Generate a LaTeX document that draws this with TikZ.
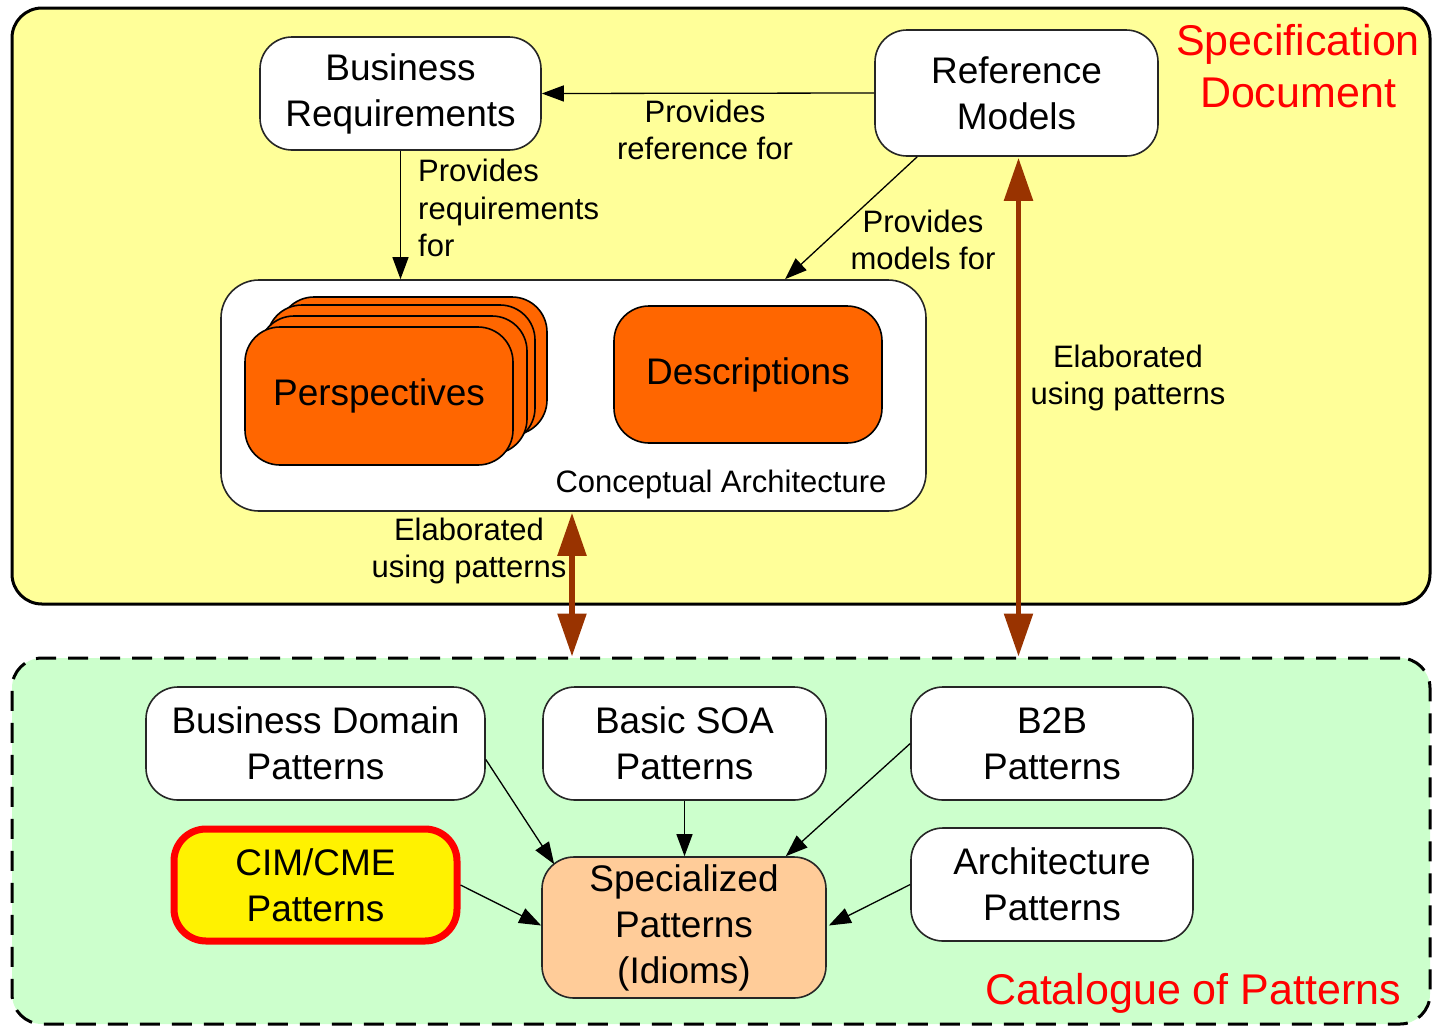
\documentclass[tikz,border=0pt]{standalone}
\usepackage{fontspec}
\setmainfont{Liberation Sans}
\usetikzlibrary{arrows.meta,calc}
\definecolor{bgyellow}{HTML}{FFFF99}
\definecolor{bggreen}{HTML}{CCFFCC}
\definecolor{orng}{HTML}{FF6600}
\definecolor{peach}{HTML}{FFCC99}
\definecolor{brn}{HTML}{993300}
\definecolor{redtxt}{HTML}{FF0000}
\begin{document}
\begin{tikzpicture}[x=1pt,y=-1pt,
  box/.style={draw=black!85, line width=1.6pt, fill=white, rounded corners=32pt,
    align=center, inner sep=0pt, font=\fontsize{37}{46}\selectfont},
  lbl/.style={font=\fontsize{31}{37.5}\selectfont, align=center, inner sep=0pt},
  redlbl/.style={font=\fontsize{43}{52}\selectfont, align=center, inner sep=0pt, text=redtxt},
  conn/.style={-{Triangle[length=22pt,width=16pt]}, line width=1.3pt},
  elab/.style={{Triangle[length=43pt,width=28pt]}-{Triangle[length=43pt,width=28pt]}, line width=5.5pt, draw=brn},
  persp/.style={draw=black, line width=1.6pt, fill=orng, rounded corners=35pt}]
\useasboundingbox (0,0) rectangle (1432,1026);
% regions
\node[draw=black, line width=3pt, fill=bgyellow, rounded corners=30pt, minimum width=1418pt, minimum height=596pt, inner sep=0pt] (specdoc) at (721,306) {};
\node[draw=black, line width=3pt, dash pattern=on 20pt off 12pt, fill=bggreen, rounded corners=30pt, minimum width=1418pt, minimum height=366pt, inner sep=0pt] (cat) at (721,841) {};
\node[redlbl] (spectitle) at (1298,66) {Specification\\Document};
\node[redlbl] (cattitle) at (1193,993) {Catalogue of Patterns};
% top nodes
\node[box, minimum width=281pt, minimum height=113pt] (BR) at (400.5,93.5) {Business\\Requirements};
\node[box, minimum width=283pt, minimum height=126pt] (RM) at (1016.5,93) {Reference\\Models};
\node[box, rounded corners=38pt, minimum width=705pt, minimum height=231pt] (CA) at (573.5,395.5) {};
\node[lbl] (calbl) at (721,484) {Conceptual Architecture};
% perspectives stack
\draw[persp] (279,297) rectangle (547,435);
\draw[persp] (267,305) rectangle (535,443);
\draw[persp] (259,316) rectangle (527,454);
\node[box, fill=orng, draw=black, rounded corners=35pt, minimum width=268pt, minimum height=138pt] (PE) at (379,396) {Perspectives};
\node[box, fill=orng, draw=black, rounded corners=35pt, minimum width=268pt, minimum height=137pt] (DE) at (748,374.5) {Descriptions};
% top connectors
\draw[conn] (RM.west) -- (BR.east);
\node[lbl] (l1) at (705,130) {Provides\\reference for};
\draw[conn] (BR.south) -- (BR.south |- CA.north);
\node[lbl, align=left, anchor=west] (l2) at (418,208) {Provides\\requirements\\for};
\draw[conn] ($(RM.south west)+(43,0)$) -- ($(CA.north)+(211.5,0)$);
\node[lbl] (l3) at (923,240) {Provides\\models for};
% elaboration arrows
\coordinate (e1a) at ($(CA.south)+(-1.5,1)$);
\coordinate (e1b) at (e1a |- cat.north);
\draw[elab] (e1a) -- (e1b);
\node[lbl] (l4) at (469,551) {Elaborated\\using patterns};
\coordinate (e2a) at ($(RM.south)+(2,1)$);
\coordinate (e2b) at (e2a |- cat.north);
\draw[elab] (e2a) -- (e2b);
\node[lbl] (l5) at (1128,378) {Elaborated\\using patterns};
% catalogue nodes
\node[box, minimum width=339pt, minimum height=113pt] (BDP) at (315.5,743.5) {Business Domain\\Patterns};
\node[box, minimum width=283pt, minimum height=113pt] (SOA) at (684.5,743.5) {Basic SOA\\Patterns};
\node[box, minimum width=282pt, minimum height=113pt] (B2B) at (1052,743.5) {B2B\\Patterns};
\node[box, fill=yellow, draw=redtxt, line width=7pt, minimum width=283pt, minimum height=112pt] (CIM) at (315.5,885) {CIM/CME\\Patterns};
\node[box, fill=peach, minimum width=284pt, minimum height=141pt] (SP) at (684,927.5) {Specialized\\Patterns\\(Idioms)};
\node[box, minimum width=282pt, minimum height=113pt] (AP) at (1052,884.5) {Architecture\\Patterns};
% catalogue connectors
\draw[conn] ($(BDP.east)+(0,16)$) -- ($(SP.north west)+(13,8)$);
\draw[conn] (SOA.south) -- (SP.north -| SOA.south);
\draw[conn] (B2B.west) -- ($(SP.north east)+(-41,0)$);
\draw[conn] (CIM.east) -- ($(SP.west)+(0,-2)$);
\draw[conn] (AP.west) -- ($(SP.east)+(2,-2)$);
\end{tikzpicture}
\end{document}
